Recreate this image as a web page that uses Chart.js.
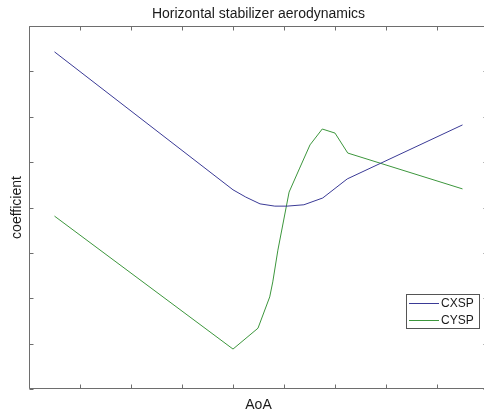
<!DOCTYPE html>
<html>
<head>
<meta charset="utf-8">
<script src="https://cdn.jsdelivr.net/npm/chart.js@4/dist/chart.umd.min.js"></script>
<style>
html,body{margin:0;padding:0;background:#fff;overflow:hidden;width:484px;height:415px;}
#wrap{position:absolute;left:0;top:0;width:490px;height:415px;}
</style>
</head>
<body>
<div id="wrap"><canvas id="c" width="490" height="415"></canvas></div>
<script>
// Data (axis has no tick labels; units are tick intervals)
const cxspX = [0.5, 4.0, 4.25, 4.53, 4.82, 5.06, 5.39, 5.76, 6.24, 8.5];
const cxspY = [7.43, 4.39, 4.23, 4.08, 4.03, 4.03, 4.06, 4.21, 4.63, 5.82];
const cyspX = [0.5, 4.0, 4.49, 4.72, 4.78, 4.88, 5.1, 5.3, 5.51, 5.75, 6.0, 6.25, 8.5];
const cyspY = [3.81, 0.88, 1.34, 2.03, 2.36, 3.06, 4.34, 4.85, 5.38, 5.73, 5.64, 5.2, 4.41];
const seriesNames = ['CXSP', 'CYSP'];
const seriesColors = ['#3a3a96', '#3c963c'];
const xTicks = [0,1,2,3,4,5,6,7,8,9];
const yTicks = [0,1,2,3,4,5,6,7,8];

const toPts = (xs, ys) => xs.map((x, i) => ({x: x, y: ys[i]}));
const FONT = '"Liberation Sans", Arial, sans-serif';

const boxAndLegend = {
  id: 'boxAndLegend',
  afterDatasetsDraw(chart) {
    const {ctx, chartArea: a, scales} = chart;
    ctx.save();
    ctx.strokeStyle = '#6e6e6e';
    ctx.lineWidth = 1;
    ctx.beginPath();
    const L = Math.round(a.left) + 0.5, R = Math.round(a.right) - 0.5;
    const T = Math.round(a.top) + 0.5, B = Math.round(a.bottom) - 0.5;
    ctx.rect(L, T, R - L, B - T);
    const tl = 4;
    xTicks.forEach(v => {
      const px = Math.round(scales.x.getPixelForValue(v)) + 0.5;
      ctx.moveTo(px, B); ctx.lineTo(px, B - tl);
      ctx.moveTo(px, T); ctx.lineTo(px, T + tl);
    });
    yTicks.forEach(v => {
      const py = Math.round(scales.y.getPixelForValue(v)) + 0.5;
      ctx.moveTo(L, py); ctx.lineTo(L + tl, py);
      ctx.moveTo(R, py); ctx.lineTo(R - tl, py);
    });
    ctx.stroke();

    // legend
    const lx = 406.5, ly = 294.5, lw = 73, lh = 34;
    ctx.fillStyle = '#ffffff';
    ctx.fillRect(lx, ly, lw, lh);
    ctx.strokeStyle = '#555555';
    ctx.strokeRect(lx, ly, lw, lh);
    ctx.font = '12px ' + FONT;
    ctx.textBaseline = 'middle';
    ctx.textAlign = 'left';
    chart.data.datasets.forEach((ds, i) => {
      const y = 303.5 + i * 17;
      ctx.strokeStyle = ds.borderColor;
      ctx.beginPath();
      ctx.moveTo(409, y); ctx.lineTo(439, y);
      ctx.stroke();
      ctx.fillStyle = '#1a1a1a';
      ctx.fillText(ds.label, 441, y + 0.5);
    });
    ctx.restore();
  }
};

new Chart(document.getElementById('c'), {
  type: 'line',
  data: {
    datasets: [
      {label: seriesNames[0], data: toPts(cxspX, cxspY), borderColor: seriesColors[0], borderWidth: 1, pointRadius: 0, tension: 0, fill: false},
      {label: seriesNames[1], data: toPts(cyspX, cyspY), borderColor: seriesColors[1], borderWidth: 1, pointRadius: 0, tension: 0, fill: false}
    ]
  },
  options: {
    responsive: false,
    animation: false,
    events: [],
    layout: {padding: {left: 0, right: 2, top: 0, bottom: 0}},
    plugins: {
      legend: {display: false},
      tooltip: {enabled: false},
      title: {
        display: true,
        fullSize: false,
        text: 'Horizontal stabilizer aerodynamics',
        color: '#1a1a1a',
        font: {family: FONT, size: 14, weight: 'normal', lineHeight: 1.2},
        padding: {top: 6.1, bottom: 3.1}
      }
    },
    scales: {
      x: {
        type: 'linear', min: 0, max: 9,
        ticks: {display: false, stepSize: 1},
        grid: {display: false, drawTicks: false},
        border: {display: false},
        title: {display: true, text: 'AoA', color: '#1a1a1a',
          font: {family: FONT, size: 14, lineHeight: 1.2}, padding: {top: 8.1, bottom: 1.1}}
      },
      y: {
        type: 'linear', min: 0, max: 8,
        ticks: {display: false, stepSize: 1},
        grid: {display: false, drawTicks: false},
        border: {display: false},
        title: {display: true, text: 'coefficient', color: '#1a1a1a',
          font: {family: FONT, size: 14, lineHeight: 1.2}, padding: {top: 9.1, bottom: 3.1}}
      }
    }
  },
  plugins: [boxAndLegend]
});
</script>
</body>
</html>
